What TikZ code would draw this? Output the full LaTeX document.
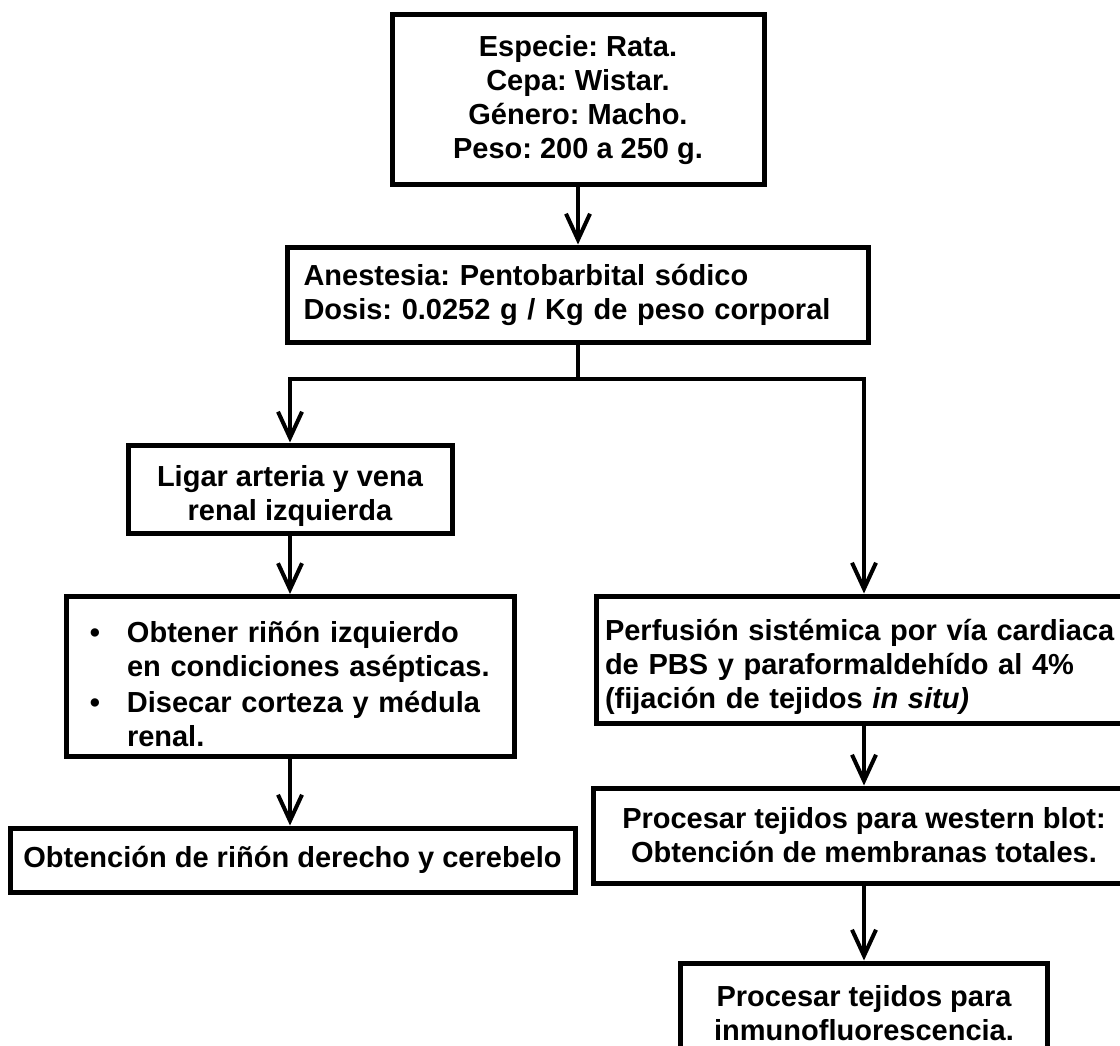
\documentclass[tikz,border=0pt]{standalone}
\usepackage{fontspec}
\setmainfont{Liberation Sans}
\usetikzlibrary{arrows.meta,positioning}
\frenchspacing

\begin{document}
\begin{tikzpicture}[x=1pt,y=-1pt,
 caja/.style={draw,line width=5pt,inner xsep=9pt,inner ysep=0pt,align=center,font=\fontsize{29}{34}\selectfont\bfseries},
 flecha/.style={line width=4pt,-{Straight Barb[length=26pt,width=24pt]}},
 linea/.style={line width=4pt}]
\clip (0,0) rectangle (1120,1046);
\fill[white] (0,0) rectangle (1120,1046);
\node[caja,minimum width=372pt,minimum height=170pt] (rata) at (578,100) {Especie: Rata.\\Cepa: Wistar.\\Género: Macho.\\Peso: 200 a 250 g.};
\node[caja,inner xsep=16pt,text width=549pt,align=left,minimum height=95pt] (anest) at (578,294.5) {Anestesia: Pentobarbital sódico\\Dosis: 0.0252 g / Kg de peso corporal};
\coordinate (split) at (578,379);
\node[caja,minimum width=324pt,minimum height=88pt] (ligar) at (290,489) {\rule{0pt}{35pt}Ligar arteria y vena\\renal izquierda};
\node[caja,inner xsep=19pt,text width=410pt,align=left,minimum height=160pt] (rinon) at (290,676.5) {\rule{0pt}{37pt}\makebox[20pt]{\textbullet}\hspace{22pt}Obtener riñón izquierdo\\\hspace*{42pt}en condiciones asépticas.\\[2pt]\makebox[20pt]{\textbullet}\hspace{22pt}Disecar corteza y médula\\\hspace*{42pt}renal.};
\node[caja,minimum width=565pt,minimum height=64pt] (obt) at (292.5,860) {Obtención de riñón derecho y cerebelo};
\node[caja,text width=518pt,align=left,minimum height=127pt] (perf) at (864,659.5) {\rule{0pt}{36pt}Perfusión sistémica por vía cardiaca\\de PBS y paraformaldehído al 4\%\\(fijación de tejidos \textit{in situ)}};
\node[caja,minimum width=542pt,minimum height=95pt] (wb) at (864,835.5) {Procesar tejidos para western blot:\\Obtención de membranas totales.};
\node[caja,minimum width=367pt,minimum height=100pt] (inmuno) at (864,1013) {Procesar tejidos para\\inmunofluorescencia.};
\draw[flecha] (rata) -- (anest);
\draw[linea] (anest) -- (split);
\draw[flecha] (split) -| (ligar.north);
\draw[flecha] (split) -| (perf.north);
\draw[flecha] (ligar) -- (rinon);
\draw[flecha] (rinon) -- (rinon |- obt.north);
\draw[flecha] (perf) -- (wb);
\draw[flecha] (wb) -- (inmuno);
\end{tikzpicture}
\end{document}
